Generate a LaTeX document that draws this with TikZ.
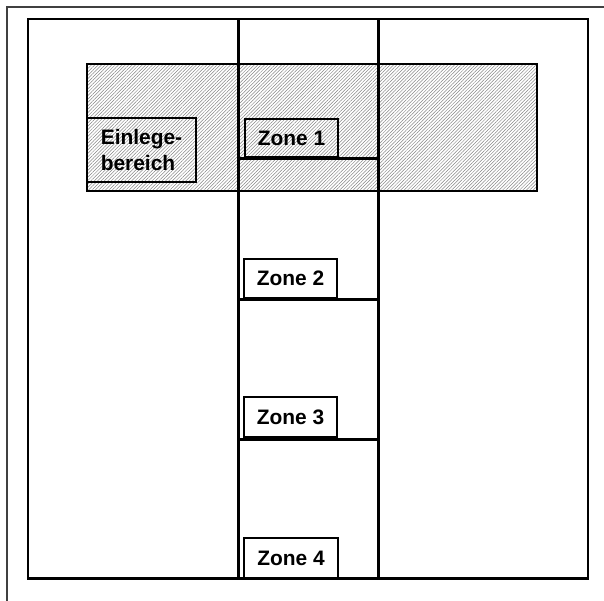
\documentclass[tikz,border=0pt]{standalone}
\usepackage{fontspec}
\setmainfont{Liberation Sans}
\usetikzlibrary{patterns.meta}
\begin{document}
\begin{tikzpicture}[x=1bp,y=-1bp,
  frame/.style={line width=1.2bp,draw=black!75},
  mainline/.style={line width=2.7bp},
  sepline/.style={line width=3bp},
  hatch/.style={pattern={Lines[angle=45,distance=2.4bp,line width=0.5bp]},pattern color=black!48,line width=2.2bp},
  zonebox/.style={draw,line width=2.8bp,inner sep=0pt,font=\bfseries\fontsize{21}{27}\selectfont,align=left}]
\useasboundingbox (0,0) rectangle (604,601);
% outer thin frame (cut at right and bottom)
\draw[frame] (7,601) -- (7,7) -- (604,7);
% hatched loading area
\path[hatch,draw] (87,64) rectangle (537,191);
% main rectangle and middle column
\draw[mainline] (28,19) rectangle (588,578.5);
\draw[mainline] (238.5,19) -- (238.5,578.5);
\draw[mainline] (378.5,19) -- (378.5,578.5);
% zone separators
\draw[sepline] (238.5,159) -- (378.5,159);
\draw[sepline] (238.5,299) -- (378.5,299);
\draw[sepline] (238.5,439) -- (378.5,439);
% labelled boxes
\node[zonebox,minimum width=109bp,minimum height=64bp] (ein) at (141.5,150) {Einlege-\\bereich};
\node[zonebox,minimum width=93bp,minimum height=38bp] (z1) at (291.5,138) {Zone 1};
\node[zonebox,minimum width=93bp,minimum height=39bp] (z2) at (290.5,278.5) {Zone 2};
\node[zonebox,minimum width=93bp,minimum height=40bp] (z3) at (290.5,417) {Zone 3};
\node[zonebox,minimum width=94bp,minimum height=40bp] (z4) at (291,558) {Zone 4};
\end{tikzpicture}
\end{document}
